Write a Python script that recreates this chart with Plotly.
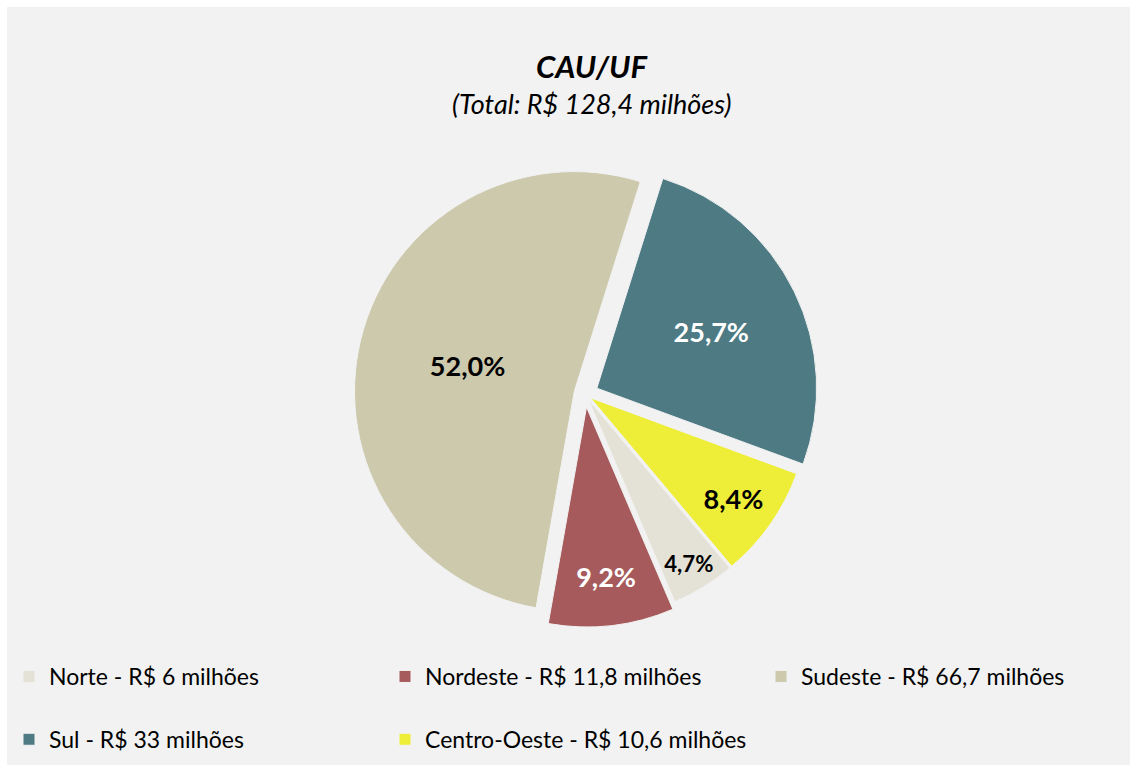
import plotly.graph_objects as go

W, H = 1130, 765

regions = ["Norte", "Nordeste", "Sudeste", "Sul", "Centro-Oeste"]
values = [6.0, 11.8, 66.7, 33.0, 10.6]
legend_labels = [
    "Norte - R$ 6 milhões",
    "Nordeste - R$ 11,8 milhões",
    "Sudeste - R$ 66,7 milhões",
    "Sul - R$ 33 milhões",
    "Centro-Oeste - R$ 10,6 milhões",
]
pct_labels = ["4,7%", "9,2%", "52,0%", "25,7%", "8,4%"]
colors = ["#e4e1d6", "#a65a5c", "#cdc9ad", "#4e7a84", "#eeee38"]
text_colors = ["#000000", "#ffffff", "#000000", "#ffffff", "#000000"]
pulls = [0.03, 0.06, 0.05, 0.06, 0.03]

FONT = "Lato"

# pie placement in pixels
cx, cy, r = 585, 394, 233

fig = go.Figure()
fig.add_trace(go.Pie(
    labels=[lab + "<br> " for lab in legend_labels],
    values=values,
    text=pct_labels,
    textinfo="text",
    textposition="inside",
    insidetextorientation="horizontal",
    textfont=dict(family=FONT, size=27, color=text_colors, weight="bold"),
    marker=dict(colors=colors, line=dict(color="#f2f2f2", width=1)),
    sort=False,
    direction="clockwise",
    rotation=140,
    pull=pulls,
    hoverinfo="text",
    domain=dict(x=[(cx - r) / W, (cx + r) / W], y=[1 - (cy + r) / H, 1 - (cy - r) / H]),
))

fig.update_layout(
    width=W, height=H,
    margin=dict(l=0, r=0, t=0, b=0, autoexpand=False),
    paper_bgcolor="#f2f2f2",
    plot_bgcolor="#f2f2f2",
    font=dict(family=FONT, color="#000000"),
    showlegend=True,
    legend=dict(
        orientation="h",
        x=9 / W, xanchor="left",
        y=1 - 655 / H, yanchor="top",
        font=dict(family=FONT, size=23, color="#000000"),
        entrywidth=331, entrywidthmode="pixels",
        valign="top",
        bgcolor="rgba(0,0,0,0)",
        traceorder="normal",
    ),
    shapes=[
        dict(type="rect", xref="paper", yref="paper", x0=0, x1=7 / W, y0=0, y1=1,
             fillcolor="#ffffff", line=dict(width=0), layer="below"),
        dict(type="rect", xref="paper", yref="paper", x0=0, x1=1, y0=1 - 7 / H, y1=1,
             fillcolor="#ffffff", line=dict(width=0), layer="below"),
    ],
    annotations=[
        dict(text="<b><i>CAU/UF</i></b>", x=592 / W, y=1 - 66 / H, xref="paper", yref="paper",
             xanchor="center", yanchor="middle", showarrow=False,
             font=dict(family=FONT, size=31, color="#000000")),
        dict(text="<i>(Total: R$ 128,4 milhões)</i>", x=592 / W, y=1 - 104 / H, xref="paper", yref="paper",
             xanchor="center", yanchor="middle", showarrow=False,
             font=dict(family=FONT, size=27, color="#000000")),
    ],
)

fig.write_html(
    "out.html",
    config={"displayModeBar": False},
    post_script="document.body.style.margin='0';document.body.style.overflow='hidden';",
)
